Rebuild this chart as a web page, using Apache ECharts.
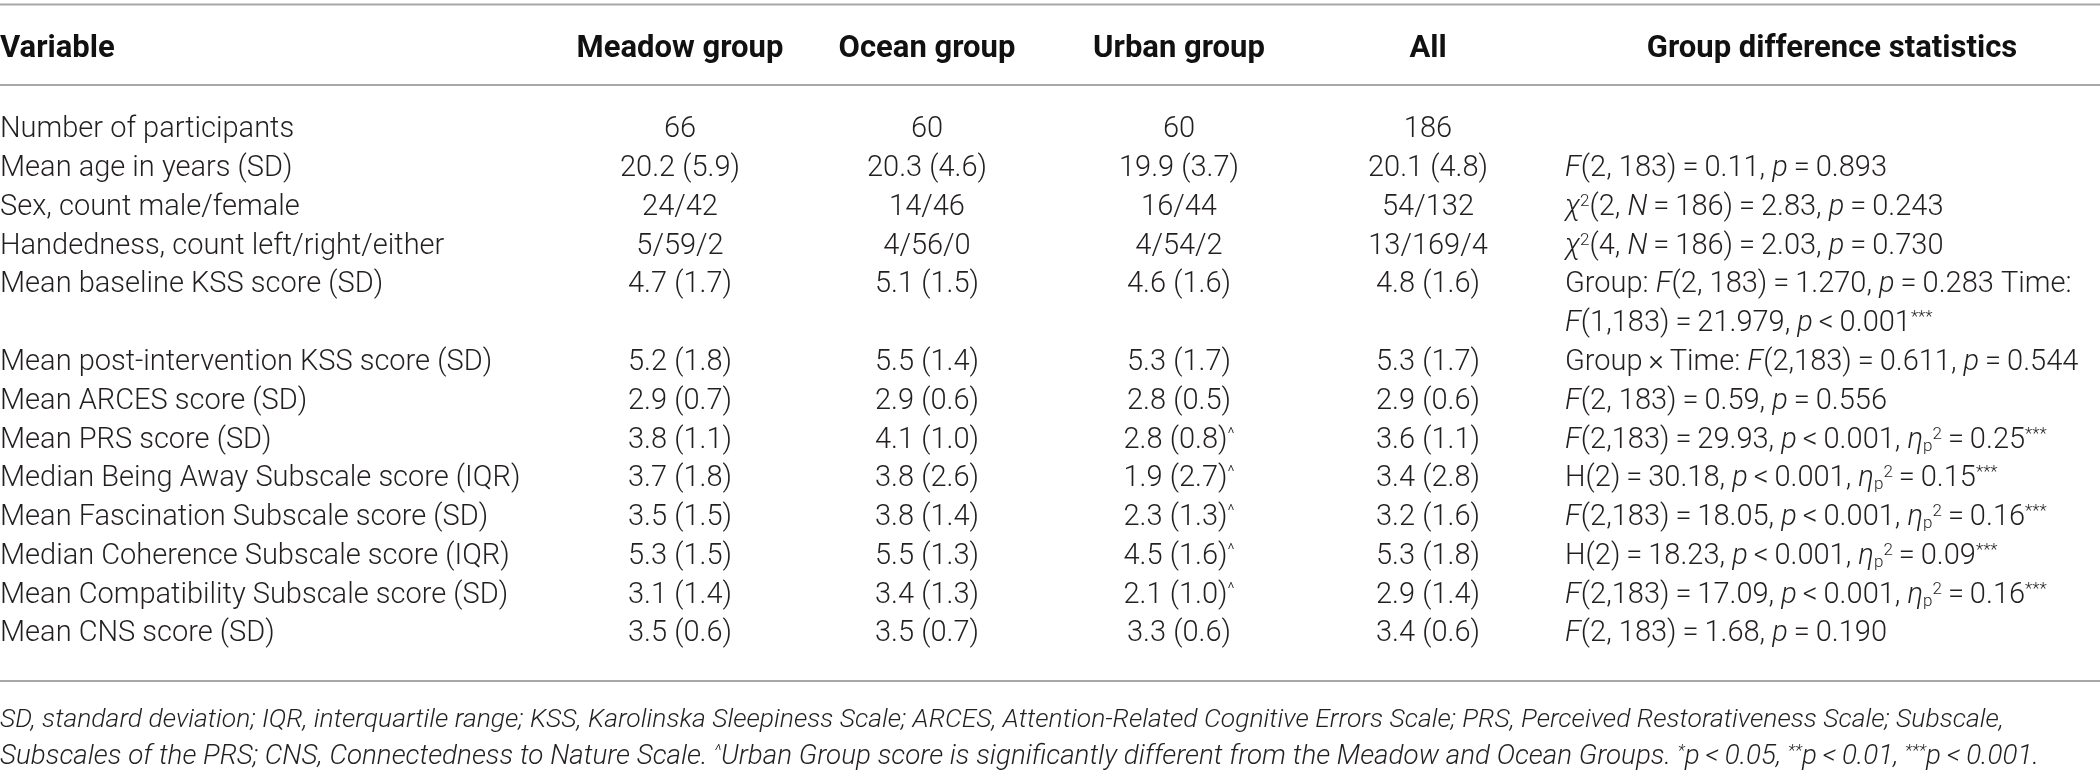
<!DOCTYPE html>
<html>
<head>
<meta charset="utf-8">
<script src="https://cdn.jsdelivr.net/npm/echarts/dist/echarts.min.js"></script>
<style>
html,body{margin:0;padding:0;background:#fff;}
#chart{width:2100px;height:775px;}
</style>
</head>
<body>
<div id="chart"></div>
<script>
// ---------- DATA ----------
const headers = ['Variable', 'Meadow group', 'Ocean group', 'Urban group', 'All', 'Group difference statistics'];

const variables = [
  'Number of participants',
  'Mean age in years (SD)',
  'Sex, count male/female',
  'Handedness, count left/right/either',
  'Mean baseline KSS score (SD)',
  '',
  'Mean post-intervention KSS score (SD)',
  'Mean ARCES score (SD)',
  'Mean PRS score (SD)',
  'Median Being Away Subscale score (IQR)',
  'Mean Fascination Subscale score (SD)',
  'Median Coherence Subscale score (IQR)',
  'Mean Compatibility Subscale score (SD)',
  'Mean CNS score (SD)'
];

const meadow = ['66', '20.2 (5.9)', '24/42', '5/59/2', '4.7 (1.7)', '', '5.2 (1.8)', '2.9 (0.7)', '3.8 (1.1)', '3.7 (1.8)', '3.5 (1.5)', '5.3 (1.5)', '3.1 (1.4)', '3.5 (0.6)'];
const ocean  = ['60', '20.3 (4.6)', '14/46', '4/56/0', '5.1 (1.5)', '', '5.5 (1.4)', '2.9 (0.6)', '4.1 (1.0)', '3.8 (2.6)', '3.8 (1.4)', '5.5 (1.3)', '3.4 (1.3)', '3.5 (0.7)'];
const urban  = ['60', '19.9 (3.7)', '16/44', '4/54/2', '4.6 (1.6)', '', '5.3 (1.7)', '2.8 (0.5)', '2.8 (0.8){sup|^}', '1.9 (2.7){sup|^}', '2.3 (1.3){sup|^}', '4.5 (1.6){sup|^}', '2.1 (1.0){sup|^}', '3.3 (0.6)'];
const allGroups = ['186', '20.1 (4.8)', '54/132', '13/169/4', '4.8 (1.6)', '', '5.3 (1.7)', '2.9 (0.6)', '3.6 (1.1)', '3.4 (2.8)', '3.2 (1.6)', '5.3 (1.8)', '2.9 (1.4)', '3.4 (0.6)'];

const T = '\u2009'; // thin space
const stats = [
  '',
  '{i|F}(2, 183)' + T + '=' + T + '0.11, {i|p}' + T + '=' + T + '0.893',
  '{i|χ}{sup|2}(2, {i|N}' + T + '=' + T + '186)' + T + '=' + T + '2.83, {i|p}' + T + '=' + T + '0.243',
  '{i|χ}{sup|2}(4, {i|N}' + T + '=' + T + '186)' + T + '=' + T + '2.03, {i|p}' + T + '=' + T + '0.730',
  'Group: {i|F}(2, 183)' + T + '=' + T + '1.270, {i|p}' + T + '=' + T + '0.283 Time:',
  '{i|F}(1,183)' + T + '=' + T + '21.979, {i|p}' + T + '<' + T + '0.001{sup|***}',
  'Group' + T + '×' + T + 'Time: {i|F}(2,183)' + T + '=' + T + '0.611, {i|p}' + T + '=' + T + '0.544',
  '{i|F}(2, 183)' + T + '=' + T + '0.59, {i|p}' + T + '=' + T + '0.556',
  '{i|F}(2,183)' + T + '=' + T + '29.93, {i|p}' + T + '<' + T + '0.001, {i|η}{sub|p}{sup|2}' + T + '=' + T + '0.25{sup|***}',
  'H(2)' + T + '=' + T + '30.18, {i|p}' + T + '<' + T + '0.001, {i|η}{sub|p}{sup|2}' + T + '=' + T + '0.15{sup|***}',
  '{i|F}(2,183)' + T + '=' + T + '18.05, {i|p}' + T + '<' + T + '0.001, {i|η}{sub|p}{sup|2}' + T + '=' + T + '0.16{sup|***}',
  'H(2)' + T + '=' + T + '18.23, {i|p}' + T + '<' + T + '0.001, {i|η}{sub|p}{sup|2}' + T + '=' + T + '0.09{sup|***}',
  '{i|F}(2,183)' + T + '=' + T + '17.09, {i|p}' + T + '<' + T + '0.001, {i|η}{sub|p}{sup|2}' + T + '=' + T + '0.16{sup|***}',
  '{i|F}(2, 183)' + T + '=' + T + '1.68, {i|p}' + T + '=' + T + '0.190'
];

const footnotes = [
  'SD, standard deviation; IQR, interquartile range; KSS, Karolinska Sleepiness Scale; ARCES, Attention-Related Cognitive Errors Scale; PRS, Perceived Restorativeness Scale; Subscale,',
  'Subscales of the PRS; CNS, Connectedness to Nature Scale. {sup|^}Urban Group score is significantly different from the Meadow and Ocean Groups. {sup|*}p' + T + '<' + T + '0.05, {sup|**}p' + T + '<' + T + '0.01, {sup|***}p' + T + '<' + T + '0.001.'
];

// ---------- LAYOUT (styling only) ----------
const W = 2100, H = 775;
const FONT = 'Roboto, "Liberation Sans", Arial, sans-serif';
const BODY_SIZE = 29;
const TEXT_COLOR = '#231f20';
const RULE_COLOR = '#a8a8a8';
const colAnchor = [0, 680, 927, 1179, 1428, 1565];
const colAlign = ['left', 'center', 'center', 'center', 'center', 'left'];
const headAnchor = [0, 680, 927, 1179, 1428, 1832];
const headAlign = ['left', 'center', 'center', 'center', 'center', 'center'];
const gridTop = 110.6, gridBottom = 121.4;
const headerOffset = 81;

const columns = [variables, meadow, ocean, urban, allGroups, stats];
const cellData = [];
const cellText = [];
columns.forEach((col, c) => {
  col.forEach((txt, r) => {
    if (txt !== '') { cellData.push([colAnchor[c], r]); cellText.push({ text: txt, c: c }); }
  });
});

const richStyles = {
  i: { fontStyle: 'italic', fontFamily: FONT, fontSize: BODY_SIZE, fontWeight: 300, fill: TEXT_COLOR },
  sup: { fontFamily: FONT, fontSize: 17, fontWeight: 300, verticalAlign: 'top', fill: TEXT_COLOR },
  sub: { fontFamily: FONT, fontSize: 17, fontWeight: 300, verticalAlign: 'bottom', fill: TEXT_COLOR }
};

const chart = echarts.init(document.getElementById('chart'), null, { renderer: 'canvas', width: W, height: H });

const option = {
  animation: false,
  backgroundColor: '#ffffff',
  grid: { left: 0, right: 0, top: gridTop, bottom: gridBottom, containLabel: false },
  xAxis: { type: 'value', min: 0, max: W, show: false },
  yAxis: { type: 'category', inverse: true, show: false, data: variables.map((v, i) => 'r' + i) },
  series: [
    {
      type: 'custom',
      name: 'cells',
      data: cellData,
      renderItem: function (params, api) {
        const item = cellText[params.dataIndex];
        const p = api.coord([api.value(0), api.value(1)]);
        return {
          type: 'text',
          x: p[0], y: p[1],
          style: {
            text: item.text,
            fontFamily: FONT, fontSize: BODY_SIZE, fontWeight: 300,
            fill: TEXT_COLOR,
            align: colAlign[item.c], verticalAlign: 'middle',
            rich: richStyles
          }
        };
      }
    },
    {
      type: 'custom',
      name: 'header',
      data: headers.map((h, i) => [headAnchor[i], 0]),
      renderItem: function (params, api) {
        const i = params.dataIndex;
        const p = api.coord([api.value(0), api.value(1)]);
        return {
          type: 'text',
          x: p[0], y: p[1] - headerOffset,
          style: {
            text: headers[i],
            fontFamily: FONT, fontSize: 31, fontWeight: 'bold',
            fill: '#111',
            align: headAlign[i], verticalAlign: 'middle'
          }
        };
      }
    }
  ],
  graphic: [
    { type: 'line', shape: { x1: 0, y1: 4.5, x2: W, y2: 4.5 }, style: { stroke: RULE_COLOR, lineWidth: 2 } },
    { type: 'line', shape: { x1: 0, y1: 85, x2: W, y2: 85 }, style: { stroke: RULE_COLOR, lineWidth: 2 } },
    { type: 'line', shape: { x1: 0, y1: 681, x2: W, y2: 681 }, style: { stroke: RULE_COLOR, lineWidth: 2 } },
    { type: 'text', x: 0, y: 720, style: { text: footnotes[0], fontFamily: FONT, fontSize: 26.5, fontWeight: 300, fontStyle: 'italic', fill: TEXT_COLOR, align: 'left', verticalAlign: 'middle' } },
    { type: 'text', x: 0, y: 757, style: { text: footnotes[1], fontFamily: FONT, fontSize: 27.8, fontWeight: 300, fontStyle: 'italic', fill: TEXT_COLOR, align: 'left', verticalAlign: 'middle',
      rich: { sup: { fontFamily: FONT, fontSize: 17, fontWeight: 300, fontStyle: 'italic', verticalAlign: 'top', fill: TEXT_COLOR } } } }
  ]
};
chart.setOption(option);
</script>
</body>
</html>
